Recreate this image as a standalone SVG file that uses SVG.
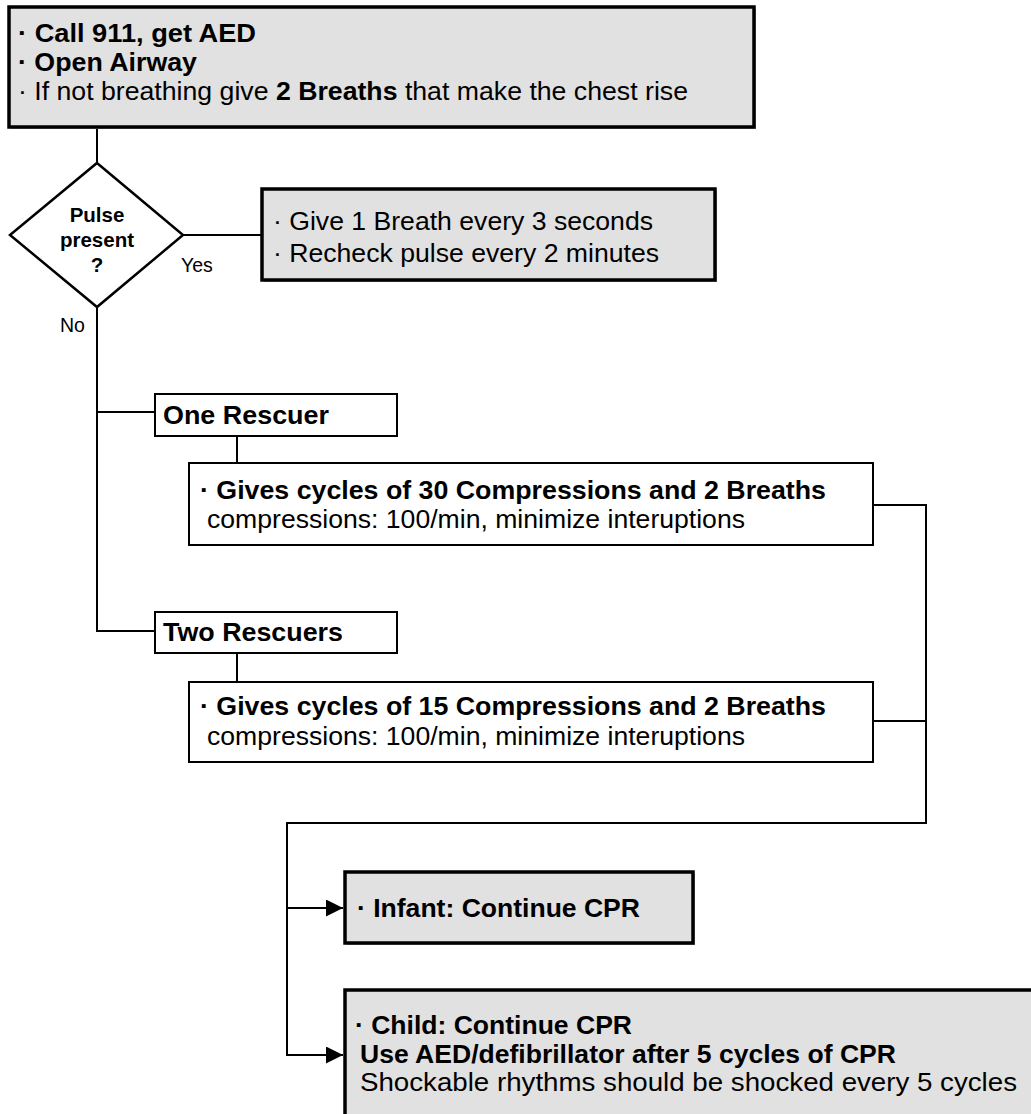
<svg xmlns="http://www.w3.org/2000/svg" width="1031" height="1114" viewBox="0 0 1031 1114">
<style>
  text { font-family: "Liberation Sans", Arial, sans-serif; fill: #000; }
  .body { font-size: 25px; }
  .b { font-weight: bold; }
  .lbl { font-size: 19.5px; }
  .dtext { font-size: 20.5px; font-weight: bold; text-anchor: middle; }
  .gray { fill: #e1e1e1; stroke: #000; stroke-width: 3.5; }
  .shadow { fill: #a8a8a8; stroke: none; }
  .white { fill: #fff; stroke: #000; stroke-width: 2; }
  .conn { fill: none; stroke: #000; stroke-width: 2; }
</style>
<defs>
  <marker id="arrow" markerUnits="userSpaceOnUse" markerWidth="18" markerHeight="18" refX="17" refY="8.5" orient="auto">
    <path d="M0,0 L17,8.5 L0,17 Z" fill="#000"/>
  </marker>
</defs>
<rect width="1031" height="1114" fill="#fff"/>

<g id="connectors">
  <line class="conn" x1="97" y1="127" x2="97" y2="163"/>
  <line class="conn" x1="183" y1="235" x2="262" y2="235"/>
  <polyline class="conn" points="97,307 97,631 155,631"/>
  <line class="conn" x1="97" y1="412" x2="155" y2="412"/>
  <line class="conn" x1="237" y1="436" x2="237" y2="463"/>
  <line class="conn" x1="237" y1="653" x2="237" y2="682"/>
  <polyline class="conn" points="873,505 926,505 926,823 287,823 287,1055 343,1055" marker-end="url(#arrow)"/>
  <line class="conn" x1="873" y1="721" x2="926" y2="721"/>
  <line class="conn" x1="287" y1="908" x2="343" y2="908" marker-end="url(#arrow)"/>
</g>

<g id="node-start">
  <rect class="shadow" x="11" y="9" width="745" height="120"/>
  <rect class="gray" x="9" y="7" width="745" height="120"/>
  <text class="body b" x="18" y="42" textLength="238" lengthAdjust="spacingAndGlyphs">· Call 911, get AED</text>
  <text class="body b" x="18" y="71" textLength="179" lengthAdjust="spacingAndGlyphs">· Open Airway</text>
  <text class="body" x="18" y="100" textLength="670" lengthAdjust="spacingAndGlyphs">· If not breathing give <tspan class="b">2 Breaths</tspan> that make the chest rise</text>
</g>

<g id="node-pulse">
  <polygon points="97,163 183,235 97,307 10,235" fill="#fff" stroke="#000" stroke-width="2.5"/>
  <text class="dtext" x="97" y="222">Pulse</text>
  <text class="dtext" x="97" y="247">present</text>
  <text class="dtext" x="97" y="272">?</text>
</g>

<g id="label-yes"><text class="lbl" x="181" y="272">Yes</text></g>
<g id="label-no"><text class="lbl" x="60" y="332">No</text></g>

<g id="node-breath">
  <rect class="shadow" x="264" y="191" width="453" height="91"/>
  <rect class="gray" x="262" y="189" width="453" height="91"/>
  <text class="body" x="273" y="230" textLength="380" lengthAdjust="spacingAndGlyphs">· Give 1 Breath every 3 seconds</text>
  <text class="body" x="273" y="262" textLength="386" lengthAdjust="spacingAndGlyphs">· Recheck pulse every 2 minutes</text>
</g>

<g id="node-one">
  <rect class="white" x="155" y="394" width="242" height="42"/>
  <text class="body b" x="163" y="424" textLength="166" lengthAdjust="spacingAndGlyphs">One Rescuer</text>
</g>

<g id="node-30">
  <rect class="white" x="189" y="463" width="684" height="82"/>
  <text class="body b" x="200" y="499" textLength="626" lengthAdjust="spacingAndGlyphs">· Gives cycles of 30 Compressions and 2 Breaths</text>
  <text class="body" x="207" y="528" textLength="538" lengthAdjust="spacingAndGlyphs">compressions: 100/min, minimize interuptions</text>
</g>

<g id="node-two">
  <rect class="white" x="155" y="612" width="242" height="41"/>
  <text class="body b" x="163" y="641" textLength="180" lengthAdjust="spacingAndGlyphs">Two Rescuers</text>
</g>

<g id="node-15">
  <rect class="white" x="189" y="682" width="684" height="80"/>
  <text class="body b" x="200" y="715" textLength="626" lengthAdjust="spacingAndGlyphs">· Gives cycles of 15 Compressions and 2 Breaths</text>
  <text class="body" x="207" y="745" textLength="538" lengthAdjust="spacingAndGlyphs">compressions: 100/min, minimize interuptions</text>
</g>

<g id="node-infant">
  <rect class="shadow" x="347" y="874" width="348" height="71"/>
  <rect class="gray" x="345" y="872" width="348" height="71"/>
  <text class="body b" x="357" y="917" textLength="283" lengthAdjust="spacingAndGlyphs">· Infant: Continue CPR</text>
</g>

<g id="node-child">
  <rect class="shadow" x="347" y="992" width="700" height="130"/>
  <rect class="gray" x="345" y="990" width="700" height="130"/>
  <text class="body b" x="355" y="1034" textLength="277" lengthAdjust="spacingAndGlyphs">· Child: Continue CPR</text>
  <text class="body b" x="360" y="1063" textLength="536" lengthAdjust="spacingAndGlyphs">Use AED/defibrillator after 5 cycles of CPR</text>
  <text class="body" x="360" y="1091" textLength="657" lengthAdjust="spacingAndGlyphs">Shockable rhythms should be shocked every 5 cycles</text>
</g>
</svg>
